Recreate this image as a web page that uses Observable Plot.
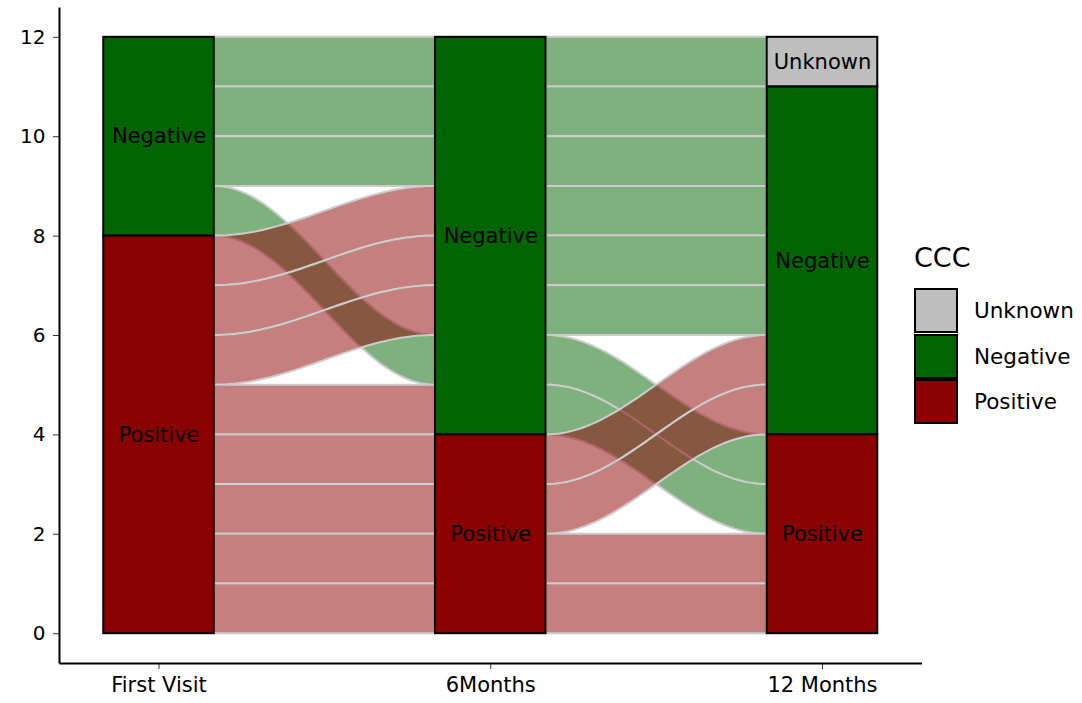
<!DOCTYPE html>
<html>
<head>
<meta charset="utf-8">
<script src="https://cdn.jsdelivr.net/npm/d3@7"></script>
<script src="https://cdn.jsdelivr.net/npm/@observablehq/plot@0.6"></script>
<style>
  html, body { margin: 0; padding: 0; background: #fff; }
  #wrap { position: relative; width: 1082px; height: 703px; font-family: "DejaVu Sans", sans-serif; }
  #legend { position: absolute; left: 914px; top: 244px; }
  #legend .title { font-size: 27px; line-height: 27px; height: 44px; color: #000; }
  #legend .row { display: flex; align-items: center; height: 45.5px; }
  #legend .key { width: 40px; height: 41px; border: 2px solid #000; box-sizing: content-box; margin-right: 16px; }
  #legend .lab { font-size: 21.5px; color: #000; }
</style>
</head>
<body>
<div id="wrap"><div id="chart"></div><div id="legend"></div></div>
<script>
// ---- data ----
const axes = ["First Visit", "6Months", "12 Months"];
const strata = ["Unknown", "Negative", "Positive"];
const strataColors = ["#BEBEBE", "#006400", "#8B0000"];
// one entry per subject (12 subjects)
const firstVisit   = ["Negative","Negative","Negative","Negative","Positive","Positive","Positive","Positive","Positive","Positive","Positive","Positive"];
const sixMonths    = ["Negative","Negative","Negative","Negative","Negative","Negative","Negative","Negative","Positive","Positive","Positive","Positive"];
const twelveMonths = ["Unknown","Negative","Negative","Positive","Negative","Negative","Negative","Positive","Negative","Negative","Positive","Positive"];
const yTicks = [0, 2, 4, 6, 8, 10, 12];

// ---- build lodes (zigzag ordering like ggalluvial) ----
const series = [firstVisit, sixMonths, twelveMonths];
const n = firstVisit.length;
const rank = s => strata.indexOf(s);
const sortKeys = [[0,1,2],[1,2,0],[2,1,0]];
const lodes = [];
for (let a = 0; a < 3; a++) {
  const idx = d3.range(n).sort((i, j) => {
    for (const k of sortKeys[a]) {
      const d = rank(series[k][i]) - rank(series[k][j]);
      if (d) return d;
    }
    return i - j;
  });
  const arr = [];
  let top = n;
  for (const i of idx) { arr[i] = {lo: top - 1, hi: top}; top -= 1; }
  lodes.push(arr);
}

const half = 1 / 6;
const rects = [];
for (let a = 0; a < 3; a++) {
  let top = n;
  for (const s of strata) {
    const c = series[a].filter(v => v === s).length;
    if (!c) continue;
    rects.push({axis: a + 1, stratum: s, x1: a + 1 - half, x2: a + 1 + half, y1: top - c, y2: top, ym: top - c / 2});
    top -= c;
  }
}

const flows = [];
const steps = 48;
for (let i = 0; i < n; i++) {
  for (let a = 0; a < 2; a++) {
    const xa = a + 1 + half, xb = a + 2 - half;
    const A = lodes[a][i], B = lodes[a + 1][i];
    for (let s = 0; s <= steps; s++) {
      const u = s / steps;
      const f = (1 - Math.cos(Math.PI * u)) / 2;
      flows.push({
        id: i + "-" + a,
        stratum: series[a][i],
        x: xa + (xb - xa) * u,
        y1: A.lo + (B.lo - A.lo) * f,
        y2: A.hi + (B.hi - A.hi) * f
      });
    }
  }
}

const xDomain = [0.7, 3.3];
const yDomain = [-0.6, 12.6];
const frameLines = [
  {x1: xDomain[0], x2: xDomain[0], y1: yDomain[0], y2: yDomain[1]},
  {x1: xDomain[0], x2: xDomain[1], y1: yDomain[0], y2: yDomain[0]}
];

const chart = Plot.plot({
  width: 1082,
  height: 703,
  marginLeft: 59,
  marginRight: 160.5,
  marginTop: 7,
  marginBottom: 40,
  style: {fontFamily: "DejaVu Sans, sans-serif", fontSize: "20px", color: "#000", background: "#fff"},
  x: {domain: xDomain, axis: null},
  y: {domain: yDomain, axis: null},
  color: {domain: strata, range: strataColors},
  marks: [
    Plot.areaY(flows, {x: "x", y1: "y1", y2: "y2", z: "id", fill: "stratum", fillOpacity: 0.5,
      stroke: "#cccccc", strokeWidth: 2, curve: "linear"}),
    Plot.rect(rects, {x1: "x1", x2: "x2", y1: "y1", y2: "y2",
      fill: "stratum", stroke: "#000", strokeWidth: 2}),
    Plot.text(rects, {x: "axis", y: "ym", text: "stratum", fill: "#000",
      fontSize: 21, fontFamily: "DejaVu Sans, sans-serif"}),
    Plot.axisY({ticks: yTicks, tickSize: 6, tickPadding: 8, stroke: "#333", fontSize: 20, fill: "#000"}),
    Plot.axisX({ticks: [1, 2, 3], tickFormat: d => axes[d - 1], tickSize: 6, tickPadding: 8,
      stroke: "#333", fontSize: 21, fill: "#000"}),
    Plot.link(frameLines, {x1: "x1", x2: "x2", y1: "y1", y2: "y2", stroke: "#000", strokeWidth: 2})
  ]
});
document.getElementById("chart").appendChild(chart);

const leg = document.getElementById("legend");
const ttl = document.createElement("div");
ttl.className = "title"; ttl.textContent = "CCC";
leg.appendChild(ttl);
strata.forEach((s, i) => {
  const r = document.createElement("div"); r.className = "row";
  const k = document.createElement("div"); k.className = "key"; k.style.background = strataColors[i];
  const l = document.createElement("div"); l.className = "lab"; l.textContent = s;
  r.appendChild(k); r.appendChild(l); leg.appendChild(r);
});
</script>
</body>
</html>
